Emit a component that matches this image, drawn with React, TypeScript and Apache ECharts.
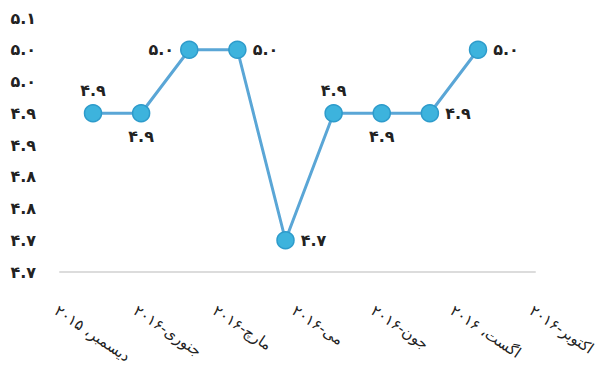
import React, { useEffect, useRef } from "react";
import * as echarts from "echarts";

const pointCategories = ["p1", "p2", "p3", "p4", "p5", "p6", "p7", "p8", "p9"];
const values = [4.95, 4.95, 5.05, 5.05, 4.75, 4.95, 4.95, 4.95, 5.05];
const labelPositions = ["top", "bottom", "left", "right", "right", "top", "bottom", "right", "right"];
const axisLabels = [
  "دیسمبر، ۲۰۱۵",
  "جنوری-۲۰۱۶",
  "مارچ-۲۰۱۶",
  "می-۲۰۱۶",
  "جون-۲۰۱۶",
  "اگست، ۲۰۱۶",
  "اکتوبر-۲۰۱۶",
];
const yMin = 4.7;
const yMax = 5.1;
const yStep = 0.05;

const digits = "۰۱۲۳۴۵۶۷۸۹";
function toUrdu(v: number): string {
  const t = Math.floor(v * 10 + 1e-6) / 10;
  return t
    .toFixed(1)
    .split("")
    .map((c) => (c >= "0" && c <= "9" ? digits[+c] : c))
    .join("");
}

const FONT = "DejaVu Sans";

export default function App() {
  const ref = useRef<HTMLDivElement>(null);
  useEffect(() => {
    document.body.style.margin = "0";
    if (!ref.current) return;
    const chart = echarts.init(ref.current, undefined, { renderer: "svg" });
    const top = 18;
    const bottom = 94;
    chart.setOption({
      animation: false,
      textStyle: { fontFamily: FONT },
      grid: [
        { left: 93, right: 127, top, bottom },
        { left: 56, right: 74, top, bottom },
        { left: 60, right: 70, top, bottom },
      ],
      xAxis: [
        {
          type: "category",
          gridIndex: 0,
          data: pointCategories,
          boundaryGap: false,
          axisLine: { show: false },
          axisTick: { show: false },
          axisLabel: { show: false },
          splitLine: { show: false },
        },
        {
          type: "category",
          gridIndex: 1,
          data: axisLabels,
          boundaryGap: false,
          axisLine: { show: false },
          axisTick: { show: false },
          splitLine: { show: false },
          axisLabel: {
            rotate: -34,
            margin: 44,
            interval: 0,
            fontFamily: FONT,
            fontSize: 15,
            color: "#222",
          },
        },
        {
          type: "value",
          gridIndex: 2,
          min: 0,
          max: 1,
          axisLine: { show: true, lineStyle: { color: "#dcdcdc", width: 2 } },
          axisTick: { show: false },
          axisLabel: { show: false },
          splitLine: { show: false },
        },
      ],
      yAxis: [
        {
          type: "value",
          gridIndex: 0,
          min: yMin,
          max: yMax,
          interval: yStep,
          axisLine: { show: false },
          axisTick: { show: false },
          splitLine: { show: false },
          axisLabel: {
            margin: 57,
            fontFamily: FONT,
            fontSize: 16,
            fontWeight: "bold",
            color: "#222",
            formatter: (v: number) => toUrdu(v),
          },
        },
        { type: "value", gridIndex: 1, min: 0, max: 1, show: false },
        { type: "value", gridIndex: 2, min: 0, max: 1, show: false },
      ],
      series: [
        {
          type: "line",
          xAxisIndex: 0,
          yAxisIndex: 0,
          data: values.map((v, i) => ({
            value: v,
            label: { position: labelPositions[i] },
          })),
          symbol: "circle",
          symbolSize: 17,
          lineStyle: { color: "#5aa6d6", width: 3 },
          itemStyle: { color: "#3db3dd", borderColor: "#2d9bcb", borderWidth: 1.5 },
          label: {
            show: true,
            distance: 6,
            fontFamily: FONT,
            fontSize: 16,
            fontWeight: "bold",
            color: "#222",
            formatter: (p: any) => toUrdu(p.value),
          },
        },
      ],
    });
    return () => chart.dispose();
  }, []);
  return <div ref={ref} style={{ width: 605, height: 366 }} />;
}
